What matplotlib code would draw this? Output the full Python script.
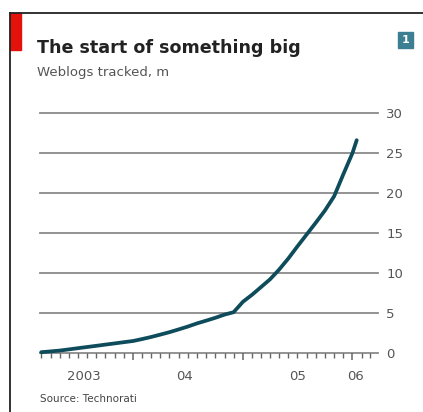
import numpy as np
import matplotlib
matplotlib.use('Agg')
import matplotlib.pyplot as plt
import matplotlib.dates as mdates
from matplotlib.patches import Rectangle
from datetime import datetime

# monthly series, m weblogs
dates = [datetime(2003, m, 1) for m in range(3, 13)] + \
        [datetime(2004, m, 1) for m in range(1, 13)] + \
        [datetime(2005, m, 1) for m in range(1, 13)] + \
        [datetime(2006, 1, 1), datetime(2006, 1, 15)]
blogs = [0.1, 0.2, 0.3, 0.45, 0.6, 0.75, 0.9, 1.05, 1.2, 1.35,
         1.5, 1.75, 2.0, 2.3, 2.6, 2.95, 3.3, 3.7, 4.05, 4.4, 4.8, 5.1,
         6.4, 7.3, 8.2, 9.2, 10.4, 11.8, 13.3, 14.8, 16.3, 17.8, 19.6, 22.3,
         25.0, 26.6]
year_labels = ['2003', '04', '05', '06']
label_pos = [datetime(2003, 7, 20), datetime(2004, 6, 20), datetime(2005, 7, 1), datetime(2006, 1, 10)]
y_ticks = [0, 5, 10, 15, 20, 25, 30]

W, H = 423, 412
fig = plt.figure(figsize=(W / 100, H / 100), dpi=100)
fig.patch.set_facecolor('white')

# frame: top rule, left rule, red tag
fig.add_artist(plt.Line2D([10 / W, 1], [1 - 13 / H, 1 - 13 / H], color='#222222', lw=1.3))
fig.add_artist(plt.Line2D([10 / W, 10 / W], [0, 1 - 13 / H], color='#222222', lw=1.3))
fig.add_artist(Rectangle((10 / W, 1 - 50 / H), 11 / W, 37 / H, color='#e3120b', transform=fig.transFigure))
# number badge
fig.add_artist(Rectangle((398 / W, 1 - 48 / H), 15 / W, 16 / H, color='#3d7f92', transform=fig.transFigure))
fig.text(405.5 / W, 1 - 40 / H, '1', color='white', fontsize=8, fontweight='bold', ha='center', va='center')

fig.text(37 / W, 1 - 53 / H, 'The start of something big', fontsize=12.6, fontweight='bold', color='#222222')
fig.text(37 / W, 1 - 76 / H, 'Weblogs tracked, m', fontsize=9.5, color='#555555')
fig.text(40 / W, 1 - 402 / H, 'Source: Technorati', fontsize=7.5, color='#444444')

ax = fig.add_axes([40 / W, 1 - 353 / H, 338 / W, 240 / H])
ax.plot(dates, blogs, color='#0e4c5c', lw=2.7, solid_capstyle='round', clip_on=False, zorder=3)

ax.set_ylim(0, 30)
ax.set_xlim(datetime(2003, 2, 25), datetime(2006, 3, 27))
for s in ax.spines.values():
    s.set_visible(False)
ax.yaxis.tick_right()
ax.set_yticks(y_ticks)
ax.tick_params(axis='y', length=0, pad=6, labelsize=9.5, labelcolor='#555555')
for v in y_ticks:
    ax.axhline(v, color='#8a8a8a', lw=1.3, zorder=1, clip_on=False)

ax.xaxis.set_major_locator(mdates.YearLocator())
ax.xaxis.set_minor_locator(mdates.MonthLocator())
ax.xaxis.set_major_formatter(plt.NullFormatter())
ax.tick_params(axis='x', which='major', length=5, width=1.1, color='#666666', direction='out')
ax.tick_params(axis='x', which='minor', length=3.5, width=1, color='#666666', direction='out')
for lab, d in zip(year_labels, label_pos):
    ax.text(mdates.date2num(d), -2.1, lab, ha='center', va='top', fontsize=9.5, color='#555555')

plt.savefig('out.png', dpi=100, facecolor='white')
